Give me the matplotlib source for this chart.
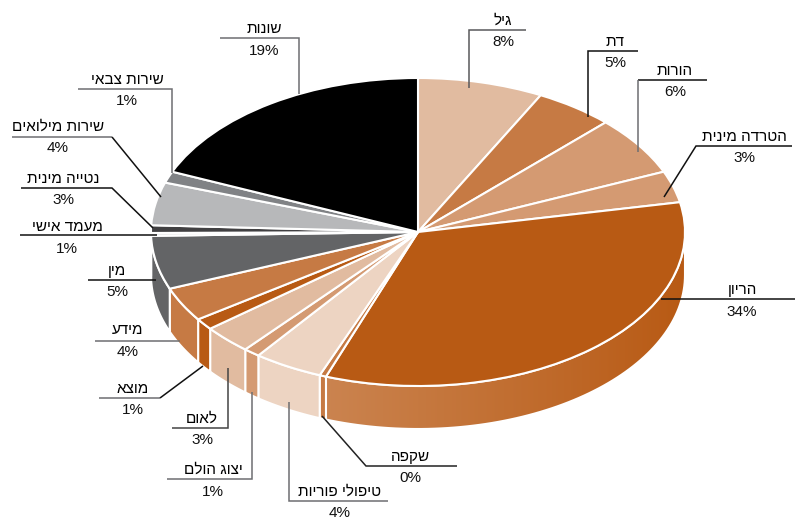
import matplotlib
matplotlib.use('Agg')
import matplotlib.pyplot as plt
import numpy as np
from matplotlib.colors import to_rgb
from matplotlib.patches import Polygon

plt.rcParams['font.family'] = ['Liberation Sans', 'DejaVu Sans']

names = ['גיל', 'דת', 'הורות', 'הטרדה מינית', 'הריון', 'שקפה', 'טיפולי פוריות', 'יצוג הולם', 'לאום',
         'מוצא', 'מידע', 'מין', 'מעמד אישי', 'נטייה מינית', 'שירות מילואים', 'שירות צבאי', 'שונות']
# size of the slices as drawn in the picture, labels are rounded and dont always agree
shares = [7.6, 4.8, 6.2, 3.3, 33.7, 0.4, 4.2, 1.0, 3.0, 1.2, 3.6, 5.6, 0.3, 0.8, 4.5, 1.2, 18.6]
percent_labels = [8, 5, 6, 3, 34, 0, 4, 1, 3, 1, 4, 5, 1, 3, 4, 1, 19]
colors = ['#e1bba0', '#c67a44', '#d49a72', '#d49a72', '#b85a14', '#c67a44', '#edd4c2', '#d49a72', '#e1bba0',
          '#b85a14', '#c67a44', '#636466', '#e6e7e8', '#414042', '#b7b8ba', '#808285', '#000000']

W, H = 801, 519
cx, cy = 418, 232
rx, ry = 267, 154
depth = 43 / ry

fig = plt.figure(figsize=(W / 100, H / 100), dpi=100)
ax = fig.add_axes([0, 0, 1, 1])


def wall_outline(t1, t2):
    t = np.radians(np.linspace(t1, t2, 80))
    top = np.column_stack([np.sin(t), np.cos(t)])
    bottom = top[::-1] - [0, depth]
    return np.vstack([top, bottom])


# side of the pie, only the front half can be seen
total = sum(shares)
start = 0
for name, share, color in zip(names, shares, colors):
    t1 = start
    t2 = start + share / total * 360
    start = t2
    if t2 <= 90 or t1 >= 270:
        continue
    t1, t2 = max(t1, 90), min(t2, 270)
    if name == 'הריון':
        # this wall fades from light on the left to dark on the right
        poly = Polygon(wall_outline(t1, t2), closed=True, facecolor='none', edgecolor='white', lw=1.5, zorder=2)
        ax.add_patch(poly)
        c1 = np.array(to_rgb('#cb8450'))
        c2 = np.array(to_rgb('#b85a14'))
        grad = np.linspace(0, 1, 256)[None, :, None] * (c2 - c1) + c1
        img = ax.imshow(grad, extent=(-0.36, 1, -1.3, 0), aspect='auto', zorder=1)
        img.set_clip_path(poly)
    else:
        ax.add_patch(Polygon(wall_outline(t1, t2), closed=True, facecolor=color, edgecolor='white', lw=1.5, zorder=2))

ax.pie(shares, colors=colors, startangle=90, counterclock=False, radius=1,
       wedgeprops={'edgecolor': 'white', 'linewidth': 1.5, 'zorder': 3})
ax.set_aspect('auto')
ax.set_xlim(-cx / rx, (W - cx) / rx)
ax.set_ylim((cy - H) / ry, cy / ry)
ax.axis('off')

# second axes in pixels for the callouts
ax2 = fig.add_axes([0, 0, 1, 1])
ax2.set_xlim(0, W)
ax2.set_ylim(H, 0)
ax2.axis('off')

gray = '#6d6e71'
leaders = [
    ([526, 469, 469], [30, 30, 88], '#58595b'),
    ([638, 588, 588], [51, 51, 117], '#111111'),
    ([707, 638], [80, 80], '#111111'),
    ([638, 638], [80, 152], gray),
    ([792, 696, 664], [146, 146, 197], '#111111'),
    ([795, 661], [299, 299], '#111111'),
    ([457, 366, 322], [466, 466, 416], '#222222'),
    ([388, 289, 289], [501, 501, 402], gray),
    ([167, 252, 252], [479, 479, 392], gray),
    ([172, 228, 228], [428, 428, 368], '#444444'),
    ([99, 160], [398, 398], gray),
    ([160, 203], [398, 366], '#111111'),
    ([95, 180], [341, 341], gray),
    ([88, 156], [280, 280], '#111111'),
    ([20, 157], [235, 235], '#111111'),
    ([21, 112, 153], [188, 188, 228], '#111111'),
    ([12, 112], [137, 137], gray),
    ([112, 161], [137, 197], '#111111'),
    ([78, 172, 172], [89, 89, 173], gray),
    ([220, 299, 299], [38, 38, 94], gray),
]
for xs, ys, c in leaders:
    ax2.plot(xs, ys, color=c, lw=1.1, solid_capstyle='butt', solid_joinstyle='miter')

# center x, baseline of name, baseline of percent - same order as names
label_pos = [(503, 25, 46), (615, 46, 67), (675, 75, 96), (744, 141, 162), (742, 294, 316), (410, 461, 482),
             (340, 496, 517), (213, 474, 496), (202, 423, 444), (133, 393, 414), (128, 334, 356), (117, 275, 296),
             (67, 231, 253), (63, 183, 204), (58, 131, 152), (127, 84, 105), (264, 33, 55)]
for name, pct, (x, y1, y2) in zip(names, percent_labels, label_pos):
    # matplotlib has no bidi, so the hebrew is reversed for display
    ax2.text(x, y1, name[::-1], ha='center', va='baseline', fontsize=11, color='black')
    ax2.text(x, y2, f'{pct}%', ha='center', va='baseline', fontsize=11, color='#111111')

fig.savefig('out.png', dpi=100)
